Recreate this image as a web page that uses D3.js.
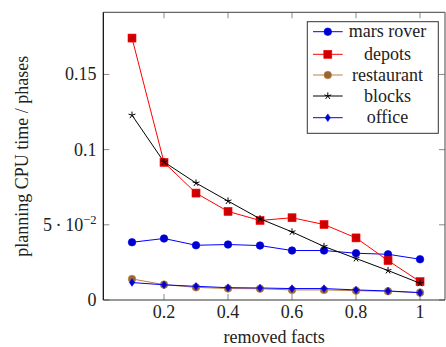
<!DOCTYPE html>
<html><head><meta charset="utf-8">
<script src="https://cdn.jsdelivr.net/npm/d3@7"></script>
<style>
body{margin:0;background:#fff;}
text{font-family:"Liberation Serif","Times New Roman",serif;fill:#222;}
</style></head>
<body><svg id="c" width="446" height="347"></svg>
<script>
const xs = [0.1,0.2,0.3,0.4,0.5,0.6,0.7,0.8,0.9,1.0];
const marsRover  = [0.0384,0.0409,0.0364,0.0369,0.0362,0.0329,0.0329,0.0311,0.0304,0.0271];
const depots     = [0.1742,0.0915,0.0711,0.0589,0.0529,0.0547,0.0502,0.0413,0.0262,0.0122];
const restaurant = [0.0140,0.0102,0.0084,0.0076,0.0075,0.0067,0.0067,0.0062,0.0058,0.0049];
const blocks     = [0.1229,0.0918,0.0778,0.0658,0.0540,0.0453,0.0356,0.0276,0.0196,0.0111];
const office     = [0.0116,0.0101,0.0091,0.0082,0.0080,0.0076,0.0076,0.0067,0.0060,0.0049];
const seriesNames = ["mars rover","depots","restaurant","blocks","office"];
const xTicks = [0.2,0.4,0.6,0.8,1];
const xTickLabels = ["0.2","0.4","0.6","0.8","1"];
const yTicks = [0,0.05,0.1,0.15];
const yTickLabels = ["0","5\u2009·\u200910","0.1","0.15"];
const xLabel = "removed facts";
const yLabel = "planning CPU time / phases";

const series = [
  {name:seriesNames[0], vals:marsRover,  line:"#0000ff", fill:"#0000cc", mark:"circle"},
  {name:seriesNames[1], vals:depots,     line:"#ff0000", fill:"#cc0000", mark:"square"},
  {name:seriesNames[2], vals:restaurant, line:"#bf8040", fill:"#996633", mark:"circle"},
  {name:seriesNames[3], vals:blocks,     line:"#000000", fill:"#000000", mark:"star"},
  {name:seriesNames[4], vals:office,     line:"#0000ff", fill:"#0000cc", mark:"diamond"}
];

const svg = d3.select("#c");
const L=103.3, R=445, T=12.3, B=300;
const x = d3.scaleLinear().domain([0.0103,1.078]).range([L,R]);
const y = d3.scaleLinear().domain([0,0.19133]).range([B,T]);
const FS=18;

const tickLen=6, tickCol="#888";
const g = svg.append("g");
xTicks.forEach(t=>{
  g.append("line").attr("x1",x(t)).attr("x2",x(t)).attr("y1",B).attr("y2",B-tickLen).attr("stroke",tickCol);
  g.append("line").attr("x1",x(t)).attr("x2",x(t)).attr("y1",T).attr("y2",T+tickLen).attr("stroke",tickCol);
});
yTicks.forEach(t=>{
  g.append("line").attr("x1",L).attr("x2",L+tickLen).attr("y1",y(t)).attr("y2",y(t)).attr("stroke",tickCol);
  g.append("line").attr("x1",R).attr("x2",R-tickLen).attr("y1",y(t)).attr("y2",y(t)).attr("stroke",tickCol);
});

svg.append("line").attr("x1",L).attr("x2",R).attr("y1",T).attr("y2",T).attr("stroke","#666").attr("stroke-width",1.2);
svg.append("line").attr("x1",R).attr("x2",R).attr("y1",T).attr("y2",B).attr("stroke","#666").attr("stroke-width",1.2);
svg.append("line").attr("x1",L).attr("x2",L).attr("y1",T).attr("y2",B).attr("stroke","#000").attr("stroke-width",1.2);
svg.append("line").attr("x1",L).attr("x2",R).attr("y1",B).attr("y2",B).attr("stroke","#333").attr("stroke-width",1.2);

xTicks.forEach((t,i)=>{
  svg.append("text").attr("x",x(t)).attr("y",318).attr("text-anchor","middle").attr("font-size",FS).text(xTickLabels[i]);
});
yTicks.forEach((t,i)=>{
  const tx = svg.append("text").attr("x",96.5).attr("y",y(t)+6).attr("text-anchor","end").attr("font-size",FS);
  tx.text(yTickLabels[i]);
  if(i===1) tx.append("tspan").attr("dy",-7).attr("font-size",12.5).text("−2");
});

svg.append("text").attr("x",(L+R)/2).attr("y",343).attr("text-anchor","middle").attr("font-size",FS).text(xLabel);
svg.append("text").attr("transform",`translate(28,${(T+B)/2}) rotate(-90)`).attr("text-anchor","middle").attr("font-size",FS).text(yLabel);

function drawMark(sel, s, cx, cy){
  if(s.mark==="circle"){
    sel.append("circle").attr("cx",cx).attr("cy",cy).attr("r",3.8).attr("fill",s.fill).attr("stroke",s.line).attr("stroke-width",0.6);
  } else if(s.mark==="square"){
    sel.append("rect").attr("x",cx-4).attr("y",cy-4).attr("width",8).attr("height",8).attr("fill",s.fill).attr("stroke",s.line).attr("stroke-width",0.6);
  } else if(s.mark==="diamond"){
    sel.append("path").attr("d",`M${cx},${cy-3.8}L${cx+2.6},${cy}L${cx},${cy+3.8}L${cx-2.6},${cy}Z`).attr("fill",s.fill).attr("stroke",s.line).attr("stroke-width",0.6);
  } else if(s.mark==="star"){
    let d="";
    for(let k=0;k<5;k++){
      const a=-Math.PI/2+k*2*Math.PI/5;
      d+=`M${cx},${cy}L${cx+3.6*Math.cos(a)},${cy+3.6*Math.sin(a)}`;
    }
    sel.append("path").attr("d",d).attr("stroke","#000").attr("stroke-width",1).attr("fill","none");
  }
}

const line = d3.line().x(d=>x(d[0])).y(d=>y(d[1]));
series.forEach(s=>{
  const pts = xs.map((v,i)=>[v,s.vals[i]]);
  const gs = svg.append("g");
  gs.append("path").attr("d",line(pts)).attr("fill","none").attr("stroke",s.line).attr("stroke-width",1);
  pts.forEach(p=>drawMark(gs,s,x(p[0]),y(p[1])));
});

const lg = svg.append("g");
lg.append("rect").attr("x",307.3).attr("y",21.7).attr("width",131).attr("height",111.6).attr("fill","#fff").attr("stroke","#333").attr("stroke-width",1);
const rowY=[31.7,54.3,75,96,117.7];
series.forEach((s,i)=>{
  const yy=rowY[i];
  lg.append("line").attr("x1",313).attr("x2",342.7).attr("y1",yy).attr("y2",yy).attr("stroke",s.line).attr("stroke-width",1);
  drawMark(lg,s,327.8,yy);
  lg.append("text").attr("x",387.5).attr("y",yy+5.5).attr("text-anchor","middle").attr("font-size",FS).text(s.name);
});
</script></body></html>
